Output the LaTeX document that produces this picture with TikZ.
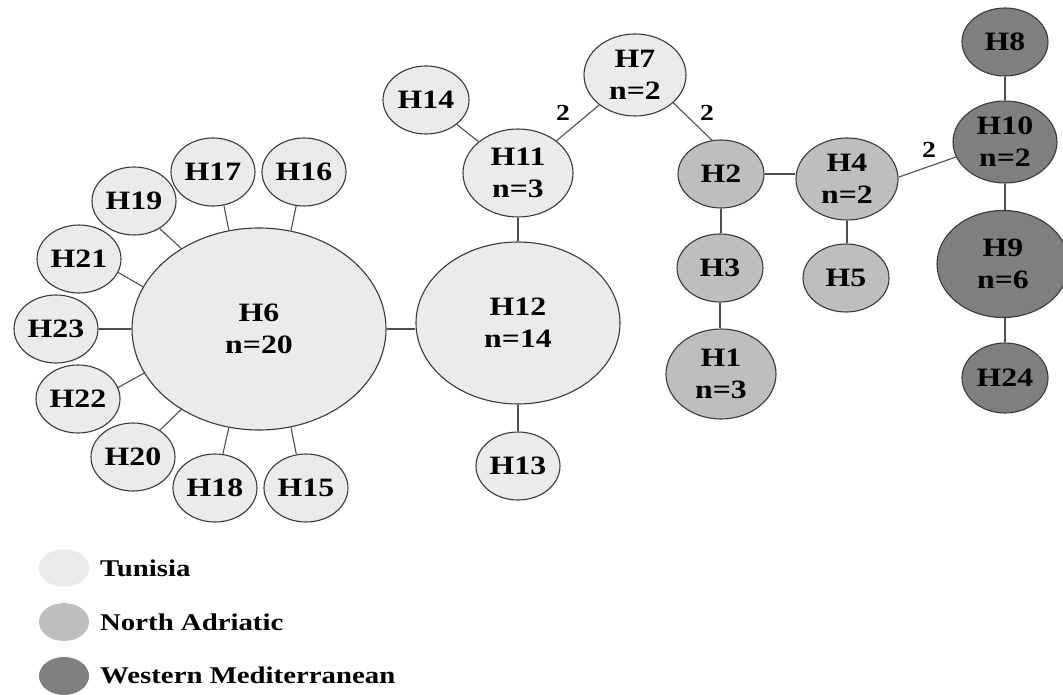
\documentclass[tikz,border=0pt]{standalone}
\usepackage{fontspec}
\setmainfont[FakeStretch=1.2]{Liberation Serif}
\usetikzlibrary{shapes.geometric}
\definecolor{tun}{HTML}{EBEBEB}
\definecolor{nad}{HTML}{BEBEBE}
\definecolor{wmed}{HTML}{7F7F7F}
\definecolor{rim}{HTML}{3A3A3A}
\definecolor{link}{HTML}{4E4E4E}
\begin{document}
\begin{tikzpicture}[x=1pt,y=-1pt,
  hap/.style={ellipse, draw=rim, line width=1.1pt, inner sep=0pt, align=center,
    font=\fontsize{26.5}{32}\selectfont\bfseries},
  sz/.style 2 args={minimum width=#1pt, minimum height=#2pt},
  tunisia/.style={hap, fill=tun},
  adriatic/.style={hap, fill=nad},
  western/.style={hap, fill=wmed},
  link/.style={draw=link, line width=1.1pt},
  steps/.style={font=\fontsize{23}{26}\selectfont\bfseries, inner sep=0pt},
  keydot/.style={ellipse, minimum width=50pt, minimum height=38pt, inner sep=0pt},
  keytext/.style={anchor=base west, inner sep=0pt, font=\fontsize{24}{28}\selectfont\bfseries}
]
\useasboundingbox (0,0) rectangle (1063,695);

% Tunisian haplotypes
\node[tunisia, sz={254}{202}] (H6)  at (259,329) {H6\\n=20};
\node[tunisia, sz={204}{162}] (H12) at (518,323) {H12\\n=14};
\node[tunisia, sz={84}{68}]   (H13) at (518,466) {H13};
\node[tunisia, sz={110}{88}]  (H11) at (518,173) {H11\\n=3};
\node[tunisia, sz={86}{68}]   (H14) at (426,100) {H14};
\node[tunisia, sz={102}{82}]  (H7)  at (635,75)  {H7\\n=2};
\node[tunisia, sz={84}{68}]   (H17) at (213,172) {H17};
\node[tunisia, sz={84}{68}]   (H16) at (304,172) {H16};
\node[tunisia, sz={84}{68}]   (H19) at (134,201) {H19};
\node[tunisia, sz={84}{68}]   (H21) at (79,259)  {H21};
\node[tunisia, sz={84}{68}]   (H23) at (56,329)  {H23};
\node[tunisia, sz={84}{68}]   (H22) at (78,399)  {H22};
\node[tunisia, sz={84}{68}]   (H20) at (133,457) {H20};
\node[tunisia, sz={84}{68}]   (H18) at (215,488) {H18};
\node[tunisia, sz={84}{68}]   (H15) at (306,488) {H15};

% North Adriatic haplotypes
\node[adriatic, sz={86}{68}]  (H2) at (721,174) {H2};
\node[adriatic, sz={86}{68}]  (H3) at (720,268) {H3};
\node[adriatic, sz={110}{90}] (H1) at (721,374) {H1\\n=3};
\node[adriatic, sz={102}{82}] (H4) at (847,179) {H4\\n=2};
\node[adriatic, sz={86}{68}]  (H5) at (846,278) {H5};

% Western Mediterranean haplotypes
\node[western, sz={86}{68}]   (H8)  at (1005,42)  {H8};
\node[western, sz={104}{82}]  (H10) at (1005,142) {H10\\n=2};
\node[western, sz={132}{107}] (H9)  at (1003,264) {H9\\n=6};
\node[western, sz={86}{70}]   (H24) at (1005,378) {H24};

% star around H6
\draw[link] (H17.288) -- (H6.107);
\draw[link] (H16.257) -- (H6.72);
\draw[link] (H19.313) -- (H6.134);
\draw[link] (H21.341) -- (H6.160);
\draw[link] (H23.east) -- (H6.west);
\draw[link] (H22.16)  -- (H6.201);
\draw[link] (H20.45)  -- (H6.226);
\draw[link] (H18.77)  -- (H6.253);
\draw[link] (H15.106) -- (H6.288);

% central chain
\draw[link] (H6.east) -- (H6.east -| H12.west);
\draw[link] (H11.south) -- (H12.north);
\draw[link] (H12.south) -- (H13.north);
\draw[link] (H14) -- (H11);
\draw[link] (H11) -- (H7);
\draw[link] (H7.-36) -- (H2.105);
\draw[link] (H2.south) -- (H2.south |- H3.north);
\draw[link] (H3.south) -- (H3.south |- H1.north);
\draw[link] (H2.east) -- (H2.east -| H4.west);
\draw[link] (H4.south) -- (H4.south |- H5.north);
\draw[link] (H4.2) -- (H10.197);
\draw[link] (H8.south) -- (H10.north);
\draw[link] (H10.south) -- (H10.south |- H9.north);
\draw[link] (H24.north |- H9.south) -- (H24.north);

% mutational steps
\node[steps] (s1) at (563,113) {2};
\node[steps] (s2) at (707,113) {2};
\node[steps] (s3) at (929,150) {2};

% key
\node[keydot, fill=tun]  (k1) at (64,568) {};
\node[keydot, fill=nad]  (k2) at (64,622) {};
\node[keydot, fill=wmed] (k3) at (64,676) {};
\node[keytext] (t1) at (100,576) {Tunisia};
\node[keytext] (t2) at (100,630) {North Adriatic};
\node[keytext] (t3) at (100,683) {Western Mediterranean};
\end{tikzpicture}
\end{document}
